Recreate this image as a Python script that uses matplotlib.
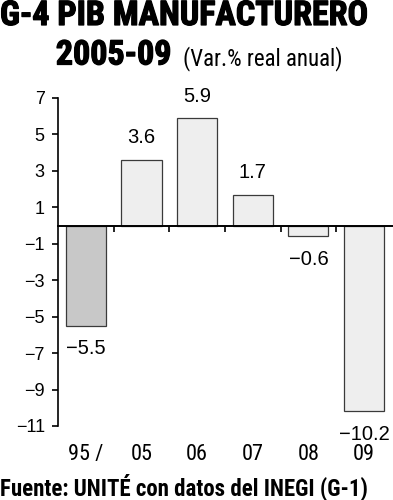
import matplotlib.pyplot as plt
import matplotlib.patheffects as pe
import numpy as np

# data
cats = ['95 /', '05', '06', '07', '08', '09']
vals = [-5.5, 3.6, 5.9, 1.7, -0.6, -10.2]
labels = ['\u22125.5', '3.6', '5.9', '1.7', '\u22120.6', '\u221210.2']
colors = ['#c8c8c8', '#eeeeee', '#eeeeee', '#eeeeee', '#eeeeee', '#eeeeee']
yticks = [7, 5, 3, 1, -1, -3, -5, -7, -9, -11]

narrow = ['Roboto Condensed', 'DejaVu Sans']
helv = ['Liberation Sans', 'DejaVu Sans']
heavy = [pe.withStroke(linewidth=0.9, foreground='black')]

fig = plt.figure(figsize=(3.93, 5.0), dpi=100)
ax = fig.add_axes([0.1476, 0.148, 0.8524, 0.656])

x = np.arange(len(cats))
ax.bar(x, vals, width=0.72, color=colors, edgecolor='#3a3a3a', linewidth=0.9, zorder=2)
ax.set_xlim(-0.5, 5.52)
ax.set_ylim(-11, 7)

# zero line + separator ticks
ax.spines['bottom'].set_position(('data', 0))
ax.spines['bottom'].set_linewidth(1.4)
ax.spines['bottom'].set_zorder(3)
ax.spines['top'].set_visible(False)
ax.spines['right'].set_visible(False)
ax.spines['left'].set_linewidth(1.2)
ax.set_xticks(x[:-1] + 0.5)
ax.set_xticklabels([])
ax.tick_params(axis='x', direction='out', length=4.3, width=1.2)

ax.set_yticks(yticks)
ax.set_yticklabels([('\u2212%d' % -t) if t < 0 else str(t) for t in yticks],
                   family=helv, fontsize=13)
ax.tick_params(axis='y', direction='out', length=4.5, width=1.2, pad=5)

# value labels
for xi, v, lab in zip(x, vals, labels):
    if v >= 0:
        ax.annotate(lab, (xi, v), xytext=(0, 9), textcoords='offset points',
                    ha='center', va='bottom', family=helv, fontsize=14.5)
    else:
        ax.annotate(lab, (xi, v), xytext=(0, -9.5), textcoords='offset points',
                    ha='center', va='top', family=helv, fontsize=14.5)

# category labels
trans = ax.get_xaxis_transform()
for xi, c in zip(x, cats):
    ax.text(xi, -0.087, c, transform=trans, ha='center', va='center',
            family=narrow, fontsize=16, clip_on=False)

# titles
fig.text(0.0, 0.968, 'G-4 PIB MANUFACTURERO', family=narrow, weight='bold',
         fontsize=24.5, ha='left', va='center', path_effects=heavy)
fig.text(0.142, 0.889, '2005-09', family=narrow, weight='bold',
         fontsize=24.5, ha='left', va='center', path_effects=heavy)
fig.text(0.466, 0.883, '(Var.% real anual)', family=narrow,
         fontsize=16.5, ha='left', va='center')
fig.text(0.0, 0.026, 'Fuente: UNIT\u00c9 con datos del INEGI (G-1)', family=narrow,
         weight='bold', fontsize=16.5, ha='left', va='center')

fig.savefig('out.png', dpi=100)
